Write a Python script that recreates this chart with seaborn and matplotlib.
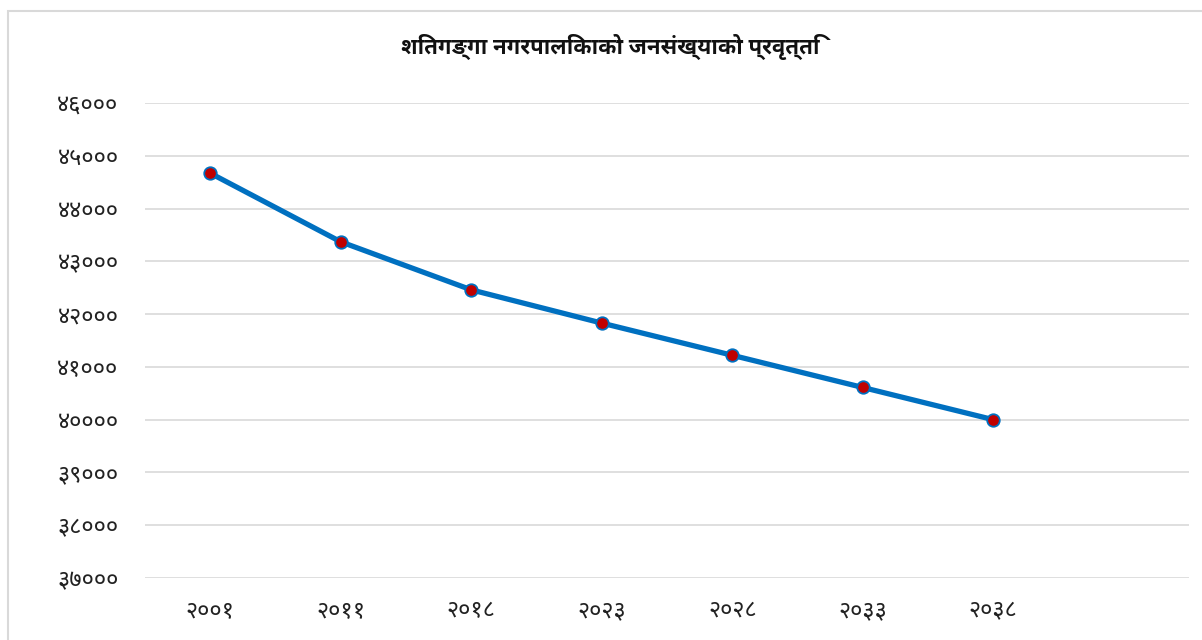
import matplotlib
matplotlib.use('Agg')
import matplotlib.pyplot as plt
from matplotlib import font_manager
from matplotlib.font_manager import FontProperties
from matplotlib.patches import Rectangle
import seaborn as sns
import pandas as pd
import numpy as np

# Data
years = ['२००१', '२०११', '२०१८', '२०२३', '२०२८', '२०३३', '२०३८']
population = [44670, 43370, 42460, 41830, 41220, 40610, 40000]
y_ticks = [37000, 38000, 39000, 40000, 41000, 42000, 43000, 44000, 45000, 46000]
title = 'शितगङ्गा नगरपालिकाको जनसंख्याको प्रवृत्ति'

DEV_DIGITS = str.maketrans('0123456789', '०१२३४५६७८९')

# pick an installed Devanagari family, and a bold file for the title
fonts = font_manager.fontManager.ttflist
preferred = ['Noto Sans Devanagari', 'Noto Sans Devanagari UI', 'Mukta', 'Hind', 'Yantramanav']
dev_font = next((n for n in preferred if any(f.name == n for f in fonts)), None)

bold_file = None
for name in preferred:
    hits = [f for f in fonts if f.name == name and f.weight == 700 and f.style == 'normal'
            and 'cond' not in f.fname.lower()]
    if hits:
        bold_file = hits[0].fname
        break

sns.set_theme(style='white')
plt.rcParams['font.family'] = ([dev_font] if dev_font else []) + ['DejaVu Sans']

df = pd.DataFrame({'pos': np.arange(len(years)), 'year': years, 'population': population})

fig = plt.figure(figsize=(12.02, 6.4), dpi=100)
ax = fig.add_axes([145 / 1202, 1 - 578 / 640, (1189 - 145) / 1202, (578 - 103) / 640])

# outer chart border (light grey frame)
fig.patches.append(Rectangle((8 / 1202, -0.05), 1.1, 1 - 11 / 640 + 0.05,
                             transform=fig.transFigure, fill=False,
                             edgecolor='#d9d9d9', linewidth=1.5, zorder=0))

sns.lineplot(data=df, x='pos', y='population', ax=ax, color='#0070C0',
             linewidth=3.8, marker='o', markersize=9,
             markerfacecolor='#C00000', markeredgecolor='#0070C0',
             markeredgewidth=1.3, zorder=3)

ax.set_xlim(-0.5, len(years) + 0.5)
ax.set_ylim(37000, 46000)
ax.set_yticks(y_ticks)
ax.set_yticklabels([str(v).translate(DEV_DIGITS) for v in y_ticks])
ax.set_xticks(df['pos'])
ax.set_xticklabels(years)
ax.yaxis.grid(True, color='#d9d9d9', linewidth=1.2)
ax.xaxis.grid(False)
for s in ax.spines.values():
    s.set_visible(False)
ax.tick_params(axis='both', length=0, labelsize=17, colors='#222222')
ax.tick_params(axis='y', pad=19)
ax.tick_params(axis='x', pad=15)
ax.set_xlabel('')
ax.set_ylabel('')

if bold_file:
    title_fp = FontProperties(fname=bold_file, size=16)
else:
    title_fp = FontProperties(size=16, weight='bold')
fig.text(610 / 1202, 1 - 47 / 640, title, ha='center', va='center',
         fontproperties=title_fp, color='#111111')

fig.savefig('out.png', dpi=100)
